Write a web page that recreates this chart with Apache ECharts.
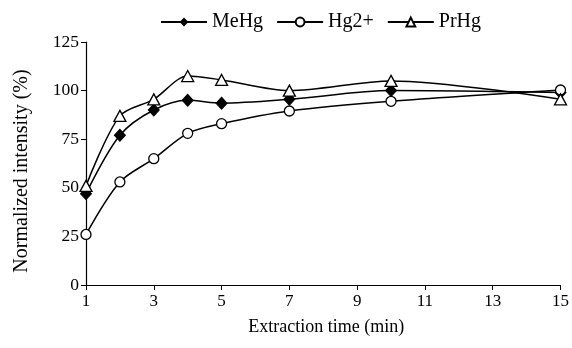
<!DOCTYPE html>
<html>
<head>
<meta charset="utf-8">
<script src="https://cdn.jsdelivr.net/npm/echarts@6/dist/echarts.min.js"></script>
<style>html,body{margin:0;padding:0;background:#fff}#c{width:572px;height:348px}</style>
</head>
<body>
<div id="c"></div>
<script>
const times = [1, 2, 3, 4, 5, 7, 10, 15];
const meHg = [47, 77, 90, 95, 93.5, 95.5, 100, 99];
const hg2 = [26, 53, 65, 78, 83, 89.5, 94.5, 100.3];
const prHg = [51, 87, 95.5, 107.5, 105.5, 100, 105, 95.5];
const xTicks = [1, 3, 5, 7, 9, 11, 13, 15];
const yTicks = [0, 25, 50, 75, 100, 125];

const font = 'Liberation Serif';
function pairs(v) { return times.map((t, i) => [t, v[i]]); }
const lineStyle = { color: '#000', width: 1.5 };
const chart = echarts.init(document.getElementById('c'), null, { renderer: 'canvas' });
chart.setOption({
  backgroundColor: '#fff',
  animation: false,
  textStyle: { fontFamily: font },
  legend: {
    top: 7,
    left: 155,
    itemWidth: 46,
    itemHeight: 11,
    itemGap: 13,
    textStyle: { fontFamily: font, fontSize: 20, color: '#000' },
    data: ['MeHg', 'Hg2+', 'PrHg']
  },
  grid: { left: 86, right: 8, top: 42, bottom: 63, containLabel: false },
  xAxis: {
    type: 'value',
    min: xTicks[0], max: xTicks[xTicks.length - 1], interval: 2,
    name: 'Extraction time (min)',
    nameLocation: 'middle',
    nameGap: 33,
    nameTextStyle: { fontFamily: font, fontSize: 18, color: '#000', padding: [0, 0, 0, 6] },
    axisLine: { lineStyle: { color: '#000', width: 1.2 } },
    axisTick: { show: true, length: 5, inside: false, lineStyle: { color: '#000' } },
    axisLabel: { fontFamily: font, fontSize: 17, color: '#000', margin: 8,
      customValues: xTicks },
    splitLine: { show: false }
  },
  yAxis: {
    type: 'value',
    min: yTicks[0], max: yTicks[yTicks.length - 1], interval: 25,
    name: 'Normalized intensity (%)',
    nameLocation: 'middle',
    nameGap: 54,
    nameTextStyle: { fontFamily: font, fontSize: 20, color: '#000', padding: [0, 15, 0, 0] },
    axisLine: { show: true, lineStyle: { color: '#000', width: 1.2 } },
    axisTick: { show: true, length: 5, inside: false, lineStyle: { color: '#000' } },
    axisLabel: { fontFamily: font, fontSize: 17.5, color: '#000', margin: 7 },
    splitLine: { show: false }
  },
  series: [
    { name: 'MeHg', type: 'line', data: pairs(meHg), smooth: 0.3,
      symbol: 'diamond', symbolSize: [11, 12], showAllSymbol: true,
      lineStyle: lineStyle, itemStyle: { color: '#000', borderColor: '#000' } },
    { name: 'Hg2+', type: 'line', data: pairs(hg2), smooth: 0.3,
      symbol: 'circle', symbolSize: 10, showAllSymbol: true,
      lineStyle: lineStyle, itemStyle: { color: '#fff', borderColor: '#000', borderWidth: 1.3 } },
    { name: 'PrHg', type: 'line', data: pairs(prHg), smooth: 0.3,
      symbol: 'triangle', symbolSize: [12, 11], showAllSymbol: true,
      lineStyle: lineStyle, itemStyle: { color: '#fff', borderColor: '#000', borderWidth: 1.3 } }
  ]
});
</script>
</body>
</html>
